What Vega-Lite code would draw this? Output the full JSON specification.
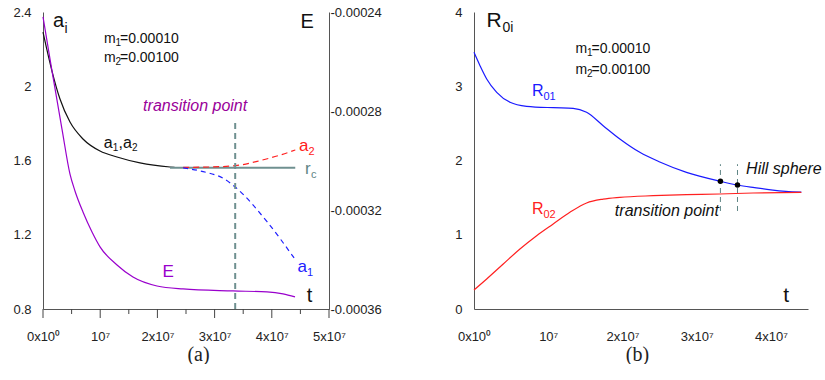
{
  "$schema": "https://vega.github.io/schema/vega-lite/v6.json",
  "padding": {"left": 12, "top": 6, "right": 0, "bottom": 0},
  "bounds": "flush",
  "spacing": 145,
  "config": {
    "view": {"stroke": null},
    "font": "Liberation Sans",
    "text": {"font": "Liberation Sans", "baseline": "alphabetic", "align": "left"},
    "tick": {"color": "#444444", "thickness": 1, "opacity": 1, "filled": true},
    "axis": {"ticks": true, "tickOpacity": 0, "domainColor": "#555555", "labelColor": "#222222", "labelFontSize": 13, "labelFont": "Liberation Sans", "grid": false, "labelFlush": false, "labelOverlap": false, "titleFont": "Liberation Serif", "titleFontSize": 20, "titleFontWeight": "normal", "titleColor": "#222222"}
  },
  "datasets": {
    "E": [
      {"t": 0, "E": -0.000242}, {"t": 1570000, "E": -0.0002638}, {"t": 3320000, "E": -0.0002873}, {"t": 4720000, "E": -0.0003055},
      {"t": 5590000, "E": -0.0003123}, {"t": 6990000, "E": -0.0003208}, {"t": 8570000, "E": -0.0003289}, {"t": 9970000, "E": -0.0003349},
      {"t": 12940000, "E": -0.0003422}, {"t": 15730000, "E": -0.0003471}, {"t": 19930000, "E": -0.0003507}, {"t": 24480000, "E": -0.0003519},
      {"t": 33220000, "E": -0.0003527}, {"t": 39160000, "E": -0.0003531}, {"t": 41960000, "E": -0.0003539}, {"t": 44060000, "E": -0.0003551}
    ],
    "a12": [
      {"t": 0, "v": 2.292}, {"t": 650000, "v": 2.201}, {"t": 1570000, "v": 2.082}, {"t": 2970000, "v": 1.931}, {"t": 4720000, "v": 1.807},
      {"t": 6990000, "v": 1.716}, {"t": 9970000, "v": 1.651}, {"t": 12940000, "v": 1.619}, {"t": 16960000, "v": 1.587},
      {"t": 22200000, "v": 1.565}, {"t": 23000000, "v": 1.563}
    ],
    "rc": [{"t": 22200000, "v": 1.561}, {"t": 44100000, "v": 1.561}],
    "a2": [
      {"t": 24500000, "v": 1.563}, {"t": 29200000, "v": 1.565}, {"t": 33600000, "v": 1.572}, {"t": 37900000, "v": 1.599},
      {"t": 43200000, "v": 1.647}, {"t": 44100000, "v": 1.657}
    ],
    "a1": [
      {"t": 24500000, "v": 1.56}, {"t": 28000000, "v": 1.54}, {"t": 31500000, "v": 1.504}, {"t": 33600000, "v": 1.457},
      {"t": 39200000, "v": 1.269}, {"t": 43900000, "v": 1.075}
    ],
    "R01": [
      {"t": 0, "R": 3.457}, {"t": 810000, "R": 3.277}, {"t": 1710000, "R": 3.098}, {"t": 3060000, "R": 2.918}, {"t": 4850000, "R": 2.784},
      {"t": 7090000, "R": 2.73}, {"t": 10670000, "R": 2.711}, {"t": 13360000, "R": 2.703}, {"t": 15170000, "R": 2.649},
      {"t": 17400000, "R": 2.469}, {"t": 19650000, "R": 2.29}, {"t": 22340000, "R": 2.11}, {"t": 25030000, "R": 1.98},
      {"t": 28630000, "R": 1.84}, {"t": 33200000, "R": 1.72}, {"t": 35500000, "R": 1.67}, {"t": 37800000, "R": 1.635},
      {"t": 40000000, "R": 1.605}, {"t": 42000000, "R": 1.585}, {"t": 44100000, "R": 1.575}
    ],
    "R02": [
      {"t": 0, "R": 0.256}, {"t": 1710000, "R": 0.404}, {"t": 3940000, "R": 0.606}, {"t": 6190000, "R": 0.808}, {"t": 8440000, "R": 0.987},
      {"t": 10670000, "R": 1.145}, {"t": 12920000, "R": 1.302}, {"t": 15170000, "R": 1.428}, {"t": 17400000, "R": 1.48},
      {"t": 19650000, "R": 1.504}, {"t": 24130000, "R": 1.526}, {"t": 28630000, "R": 1.54}, {"t": 33100000, "R": 1.549},
      {"t": 37590000, "R": 1.562}, {"t": 44100000, "R": 1.572}
    ],
    "bigA": [
      {"t": 1750000, "v": 2.321, "main": "a", "sub": "i"},
      {"t": 45000000, "v": 2.312, "main": "E", "sub": ""},
      {"t": 46100000, "v": 0.838, "main": "t", "sub": ""}
    ],
    "massA": [
      {"t": 10660000, "v": 2.233, "main": "m", "sub": "1", "rest": "=0.00010"},
      {"t": 10660000, "v": 2.129, "main": "m", "sub": "2", "rest": "=0.00100"}
    ],
    "a12lab": [{"t": 10600000, "v": 1.667, "p1": "a", "p2": "1", "p3": ",", "p4": "a", "p5": "2"}],
    "a2lab": [{"t": 44760000, "v": 1.653, "main": "a", "sub": "2"}],
    "a1lab": [{"t": 44500000, "v": 0.999, "main": "a", "sub": "1"}],
    "rclab": [{"t": 45800000, "v": 1.527, "main": "r", "sub": "c"}],
    "bigB": [
      {"t": 1680000, "R": 3.794, "main": "R", "sub": "0i"},
      {"t": 41650000, "R": 0.094, "main": "t", "sub": ""}
    ],
    "massB": [
      {"t": 13680000, "R": 3.448, "main": "m", "sub": "1", "rest": "=0.00010"},
      {"t": 13680000, "R": 3.165, "main": "m", "sub": "2", "rest": "=0.00100"}
    ],
    "R01lab": [{"t": 7800000, "R": 2.873, "main": "R", "sub": "01"}],
    "R02lab": [{"t": 7800000, "R": 1.279, "main": "R", "sub": "02"}],
    "xMajA": [{"t": 0}, {"t": 10000000}, {"t": 20000000}, {"t": 30000000}, {"t": 40000000}, {"t": 50000000}],
    "xMinA": [{"t": 5000000}, {"t": 15000000}, {"t": 25000000}, {"t": 35000000}, {"t": 45000000}],
    "yMajA": [{"v": 0.8}, {"v": 1.2}, {"v": 1.6}, {"v": 2}, {"v": 2.4}],
    "yMinA": [{"v": 1}, {"v": 1.4}, {"v": 1.8}, {"v": 2.2}],
    "xMajB": [{"t": 0}, {"t": 10000000}, {"t": 20000000}, {"t": 30000000}, {"t": 40000000}],
    "xMinB": [{"t": 5000000}, {"t": 15000000}, {"t": 25000000}, {"t": 35000000}],
    "yMajB": [{"R": 0}, {"R": 1}, {"R": 2}, {"R": 3}, {"R": 4}],
    "yMinB": [{"R": 0.5}, {"R": 1.5}, {"R": 2.5}, {"R": 3.5}]
  },
  "hconcat": [
    {
      "width": 286,
      "height": 297,
      "encoding": {
        "x": {"field": "t", "type": "quantitative", "scale": {"domain": [0, 50000000], "nice": false, "zero": false}, "axis": null}
      },
      "resolve": {"scale": {"x": "independent", "y": "independent"}, "axis": {"x": "independent", "y": "independent"}},
      "layer": [
        {
          "data": {"name": "a12"},
          "mark": {"type": "line", "color": "#111111", "strokeWidth": 1.2, "interpolate": "monotone"},
          "encoding": {
            "x": {"field": "t", "type": "quantitative", "scale": {"domain": [0, 50000000], "nice": false, "zero": false},
              "axis": {"orient": "bottom", "values": [0, 10000000, 20000000, 30000000, 40000000, 50000000],
                "labelExpr": "datum.value == 0 ? '0x10⁰' : (datum.value == 10000000 ? '10⁷' : (datum.value / 10000000) + 'x10⁷')",
                "tickSize": 9, "labelPadding": 12, "title": "(a)", "titleX": 155, "titleY": 51, "titleBaseline": "alphabetic"}},
            "y": {"field": "v", "type": "quantitative", "scale": {"domain": [0.8, 2.4], "nice": false, "zero": false},
              "axis": {"orient": "left", "values": [0.8, 1.2, 1.6, 2, 2.4], "format": ".2~f", "tickSize": 9, "labelPadding": 3, "title": null}}
          }
        },
        {
          "data": {"name": "E"},
          "mark": {"type": "line", "color": "#9900cc", "strokeWidth": 1.2, "interpolate": "monotone"},
          "encoding": {"y": {"field": "E", "type": "quantitative", "scale": {"domain": [-0.00036, -0.00024], "nice": false, "zero": false},
            "axis": {"orient": "right", "values": [-0.00036, -0.00032, -0.00028, -0.00024],
              "labelExpr": "'-' + format(abs(datum.value), '.5f')",
              "tickSize": -9, "labelPadding": 10, "title": null}}}
        },
        {
          "data": {"name": "xMajA"},
          "mark": {"type": "tick", "orient": "vertical", "size": 9, "yOffset": 4.5},
          "encoding": {"y": {"datum": 0.8, "type": "quantitative", "scale": {"domain": [0.8, 2.4], "nice": false, "zero": false}, "axis": null}}
        },
        {
          "data": {"name": "xMinA"},
          "mark": {"type": "tick", "orient": "vertical", "size": 5, "yOffset": 2.5},
          "encoding": {"y": {"datum": 0.8, "type": "quantitative", "scale": {"domain": [0.8, 2.4], "nice": false, "zero": false}, "axis": null}}
        },
        {
          "data": {"name": "yMajA"},
          "mark": {"type": "tick", "orient": "horizontal", "size": 9, "xOffset": -4.5},
          "encoding": {"x": {"datum": 0, "type": "quantitative", "scale": {"domain": [0, 50000000], "nice": false, "zero": false}, "axis": null},
            "y": {"field": "v", "type": "quantitative", "scale": {"domain": [0.8, 2.4], "nice": false, "zero": false}, "axis": null}}
        },
        {
          "data": {"name": "yMinA"},
          "mark": {"type": "tick", "orient": "horizontal", "size": 5, "xOffset": -2.5},
          "encoding": {"x": {"datum": 0, "type": "quantitative", "scale": {"domain": [0, 50000000], "nice": false, "zero": false}, "axis": null},
            "y": {"field": "v", "type": "quantitative", "scale": {"domain": [0.8, 2.4], "nice": false, "zero": false}, "axis": null}}
        },
        {
          "data": {"name": "yMajA"},
          "mark": {"type": "tick", "orient": "horizontal", "size": 9, "xOffset": -4.5},
          "encoding": {"x": {"datum": 50000000, "type": "quantitative", "scale": {"domain": [0, 50000000], "nice": false, "zero": false}, "axis": null},
            "y": {"field": "v", "type": "quantitative", "scale": {"domain": [0.8, 2.4], "nice": false, "zero": false}, "axis": null}}
        },
        {
          "data": {"name": "yMinA"},
          "mark": {"type": "tick", "orient": "horizontal", "size": 5, "xOffset": -2.5},
          "encoding": {"x": {"datum": 50000000, "type": "quantitative", "scale": {"domain": [0, 50000000], "nice": false, "zero": false}, "axis": null},
            "y": {"field": "v", "type": "quantitative", "scale": {"domain": [0.8, 2.4], "nice": false, "zero": false}, "axis": null}}
        },
        {
          "data": {"name": "rc"},
          "mark": {"type": "line", "color": "#6f9090", "strokeWidth": 2},
          "encoding": {"y": {"field": "v", "type": "quantitative", "scale": {"domain": [0.8, 2.4], "nice": false, "zero": false}, "axis": null}}
        },
        {
          "data": {"name": "a2"},
          "mark": {"type": "line", "color": "#ff2020", "strokeWidth": 1.2, "strokeDash": [6, 4], "interpolate": "monotone"},
          "encoding": {"y": {"field": "v", "type": "quantitative", "scale": {"domain": [0.8, 2.4], "nice": false, "zero": false}, "axis": null}}
        },
        {
          "data": {"name": "a1"},
          "mark": {"type": "line", "color": "#2020ff", "strokeWidth": 1.2, "strokeDash": [5, 4], "interpolate": "monotone"},
          "encoding": {"y": {"field": "v", "type": "quantitative", "scale": {"domain": [0.8, 2.4], "nice": false, "zero": false}, "axis": null}}
        },
        {
          "data": {"values": [{"t": 33600000, "lo": 0.8, "hi": 1.82}]},
          "mark": {"type": "rule", "color": "#6f9090", "strokeWidth": 2, "strokeDash": [6, 4]},
          "encoding": {"y": {"field": "lo", "type": "quantitative", "scale": {"domain": [0.8, 2.4], "nice": false, "zero": false}, "axis": null}, "y2": {"field": "hi"}}
        },
        {
          "data": {"name": "bigA"},
          "mark": {"type": "text", "fontSize": 20, "color": "#111111"},
          "encoding": {"y": {"field": "v", "type": "quantitative", "scale": {"domain": [0.8, 2.4], "nice": false, "zero": false}, "axis": null}, "text": {"field": "main"}}
        },
        {
          "data": {"name": "bigA"},
          "mark": {"type": "text", "fontSize": 14, "color": "#111111", "dx": 11.5, "dy": 6},
          "encoding": {"y": {"field": "v", "type": "quantitative", "scale": {"domain": [0.8, 2.4], "nice": false, "zero": false}, "axis": null}, "text": {"field": "sub"}}
        },
        {
          "data": {"name": "massA"},
          "mark": {"type": "text", "fontSize": 14, "color": "#111111"},
          "encoding": {"y": {"field": "v", "type": "quantitative", "scale": {"domain": [0.8, 2.4], "nice": false, "zero": false}, "axis": null}, "text": {"field": "main"}}
        },
        {
          "data": {"name": "massA"},
          "mark": {"type": "text", "fontSize": 10, "color": "#111111", "dx": 11.5, "dy": 3},
          "encoding": {"y": {"field": "v", "type": "quantitative", "scale": {"domain": [0.8, 2.4], "nice": false, "zero": false}, "axis": null}, "text": {"field": "sub"}}
        },
        {
          "data": {"name": "massA"},
          "mark": {"type": "text", "fontSize": 14, "color": "#111111", "dx": 16},
          "encoding": {"y": {"field": "v", "type": "quantitative", "scale": {"domain": [0.8, 2.4], "nice": false, "zero": false}, "axis": null}, "text": {"field": "rest"}}
        },
        {
          "data": {"values": [{"t": 26600000, "v": 1.867, "label": "transition point"}]},
          "mark": {"type": "text", "align": "center", "fontSize": 16, "fontStyle": "italic", "color": "#990099"},
          "encoding": {"y": {"field": "v", "type": "quantitative", "scale": {"domain": [0.8, 2.4], "nice": false, "zero": false}, "axis": null}, "text": {"field": "label"}}
        },
        {
          "data": {"name": "a12lab"},
          "mark": {"type": "text", "fontSize": 16, "color": "#111111"},
          "encoding": {"y": {"field": "v", "type": "quantitative", "scale": {"domain": [0.8, 2.4], "nice": false, "zero": false}, "axis": null}, "text": {"field": "p1"}}
        },
        {
          "data": {"name": "a12lab"},
          "mark": {"type": "text", "fontSize": 10, "color": "#111111", "dx": 9, "dy": 3},
          "encoding": {"y": {"field": "v", "type": "quantitative", "scale": {"domain": [0.8, 2.4], "nice": false, "zero": false}, "axis": null}, "text": {"field": "p2"}}
        },
        {
          "data": {"name": "a12lab"},
          "mark": {"type": "text", "fontSize": 16, "color": "#111111", "dx": 14.8},
          "encoding": {"y": {"field": "v", "type": "quantitative", "scale": {"domain": [0.8, 2.4], "nice": false, "zero": false}, "axis": null}, "text": {"field": "p3"}}
        },
        {
          "data": {"name": "a12lab"},
          "mark": {"type": "text", "fontSize": 16, "color": "#111111", "dx": 19.3},
          "encoding": {"y": {"field": "v", "type": "quantitative", "scale": {"domain": [0.8, 2.4], "nice": false, "zero": false}, "axis": null}, "text": {"field": "p4"}}
        },
        {
          "data": {"name": "a12lab"},
          "mark": {"type": "text", "fontSize": 10, "color": "#111111", "dx": 28.4, "dy": 3},
          "encoding": {"y": {"field": "v", "type": "quantitative", "scale": {"domain": [0.8, 2.4], "nice": false, "zero": false}, "axis": null}, "text": {"field": "p5"}}
        },
        {
          "data": {"name": "a2lab"},
          "mark": {"type": "text", "fontSize": 17, "color": "#ff2020"},
          "encoding": {"y": {"field": "v", "type": "quantitative", "scale": {"domain": [0.8, 2.4], "nice": false, "zero": false}, "axis": null}, "text": {"field": "main"}}
        },
        {
          "data": {"name": "a2lab"},
          "mark": {"type": "text", "fontSize": 11, "color": "#ff2020", "dx": 9.5, "dy": 4},
          "encoding": {"y": {"field": "v", "type": "quantitative", "scale": {"domain": [0.8, 2.4], "nice": false, "zero": false}, "axis": null}, "text": {"field": "sub"}}
        },
        {
          "data": {"name": "a1lab"},
          "mark": {"type": "text", "fontSize": 17, "color": "#2020ff"},
          "encoding": {"y": {"field": "v", "type": "quantitative", "scale": {"domain": [0.8, 2.4], "nice": false, "zero": false}, "axis": null}, "text": {"field": "main"}}
        },
        {
          "data": {"name": "a1lab"},
          "mark": {"type": "text", "fontSize": 11, "color": "#2020ff", "dx": 9.5, "dy": 4},
          "encoding": {"y": {"field": "v", "type": "quantitative", "scale": {"domain": [0.8, 2.4], "nice": false, "zero": false}, "axis": null}, "text": {"field": "sub"}}
        },
        {
          "data": {"name": "rclab"},
          "mark": {"type": "text", "fontSize": 17, "color": "#5f8585"},
          "encoding": {"y": {"field": "v", "type": "quantitative", "scale": {"domain": [0.8, 2.4], "nice": false, "zero": false}, "axis": null}, "text": {"field": "main"}}
        },
        {
          "data": {"name": "rclab"},
          "mark": {"type": "text", "fontSize": 11, "color": "#5f8585", "dx": 6, "dy": 4},
          "encoding": {"y": {"field": "v", "type": "quantitative", "scale": {"domain": [0.8, 2.4], "nice": false, "zero": false}, "axis": null}, "text": {"field": "sub"}}
        },
        {
          "data": {"values": [{"t": 20900000, "v": 0.972, "label": "E"}]},
          "mark": {"type": "text", "fontSize": 17, "color": "#9900cc"},
          "encoding": {"y": {"field": "v", "type": "quantitative", "scale": {"domain": [0.8, 2.4], "nice": false, "zero": false}, "axis": null}, "text": {"field": "label"}}
        }
      ]
    },
    {
      "width": 334,
      "height": 297,
      "encoding": {
        "x": {"field": "t", "type": "quantitative", "scale": {"domain": [0, 45000000], "nice": false, "zero": false}, "axis": null},
        "y": {"field": "R", "type": "quantitative", "scale": {"domain": [0, 4], "nice": false, "zero": false}, "axis": null}
      },
      "resolve": {"scale": {"x": "independent", "y": "independent"}, "axis": {"x": "independent", "y": "independent"}},
      "layer": [
        {
          "data": {"name": "R01"},
          "mark": {"type": "line", "color": "#1a1aff", "strokeWidth": 1.2, "interpolate": "monotone"},
          "encoding": {
            "x": {"field": "t", "type": "quantitative", "scale": {"domain": [0, 45000000], "nice": false, "zero": false},
              "axis": {"orient": "bottom", "values": [0, 10000000, 20000000, 30000000, 40000000],
                "labelExpr": "datum.value == 0 ? '0x10⁰' : (datum.value == 10000000 ? '10⁷' : (datum.value / 10000000) + 'x10⁷')",
                "tickSize": 9, "labelPadding": 12, "title": "(b)", "titleX": 163, "titleY": 51, "titleBaseline": "alphabetic"}},
            "y": {"field": "R", "type": "quantitative", "scale": {"domain": [0, 4], "nice": false, "zero": false},
              "axis": {"orient": "left", "values": [0, 1, 2, 3, 4], "format": "d", "tickSize": 9, "labelPadding": 3, "title": null}}
          }
        },
        {
          "data": {"name": "R02"},
          "mark": {"type": "line", "color": "#ff2020", "strokeWidth": 1.2, "interpolate": "monotone"}
        },
        {
          "data": {"name": "xMajB"},
          "mark": {"type": "tick", "orient": "vertical", "size": 9, "yOffset": 4.5},
          "encoding": {"y": {"datum": 0, "type": "quantitative", "scale": {"domain": [0, 4], "nice": false, "zero": false}, "axis": null}}
        },
        {
          "data": {"name": "xMinB"},
          "mark": {"type": "tick", "orient": "vertical", "size": 5, "yOffset": 2.5},
          "encoding": {"y": {"datum": 0, "type": "quantitative", "scale": {"domain": [0, 4], "nice": false, "zero": false}, "axis": null}}
        },
        {
          "data": {"name": "yMajB"},
          "mark": {"type": "tick", "orient": "horizontal", "size": 9, "xOffset": -4.5},
          "encoding": {"x": {"datum": 0, "type": "quantitative", "scale": {"domain": [0, 45000000], "nice": false, "zero": false}, "axis": null}}
        },
        {
          "data": {"name": "yMinB"},
          "mark": {"type": "tick", "orient": "horizontal", "size": 5, "xOffset": -2.5},
          "encoding": {"x": {"datum": 0, "type": "quantitative", "scale": {"domain": [0, 45000000], "nice": false, "zero": false}, "axis": null}}
        },
        {
          "data": {"values": [{"t": 33200000, "R": 1.32, "hi": 1.95}, {"t": 35500000, "R": 1.32, "hi": 1.95}]},
          "mark": {"type": "rule", "color": "#5f8585", "strokeWidth": 1, "strokeDash": [5, 4]},
          "encoding": {"y2": {"field": "hi"}}
        },
        {
          "data": {"values": [{"t": 33200000, "R": 1.72}, {"t": 35500000, "R": 1.67}]},
          "mark": {"type": "point", "filled": true, "color": "#000000", "size": 30, "opacity": 1}
        },
        {
          "data": {"name": "bigB"},
          "mark": {"type": "text", "fontSize": 21, "color": "#111111"},
          "encoding": {"text": {"field": "main"}}
        },
        {
          "data": {"name": "bigB"},
          "mark": {"type": "text", "fontSize": 14, "color": "#111111", "dx": 16, "dy": 5},
          "encoding": {"text": {"field": "sub"}}
        },
        {
          "data": {"name": "massB"},
          "mark": {"type": "text", "fontSize": 14, "color": "#111111"},
          "encoding": {"text": {"field": "main"}}
        },
        {
          "data": {"name": "massB"},
          "mark": {"type": "text", "fontSize": 10, "color": "#111111", "dx": 11.5, "dy": 3},
          "encoding": {"text": {"field": "sub"}}
        },
        {
          "data": {"name": "massB"},
          "mark": {"type": "text", "fontSize": 14, "color": "#111111", "dx": 16},
          "encoding": {"text": {"field": "rest"}}
        },
        {
          "data": {"name": "R01lab"},
          "mark": {"type": "text", "fontSize": 16, "color": "#1a1aff"},
          "encoding": {"text": {"field": "main"}}
        },
        {
          "data": {"name": "R01lab"},
          "mark": {"type": "text", "fontSize": 11, "color": "#1a1aff", "dx": 11.5, "dy": 4},
          "encoding": {"text": {"field": "sub"}}
        },
        {
          "data": {"name": "R02lab"},
          "mark": {"type": "text", "fontSize": 16, "color": "#ff2020"},
          "encoding": {"text": {"field": "main"}}
        },
        {
          "data": {"name": "R02lab"},
          "mark": {"type": "text", "fontSize": 11, "color": "#ff2020", "dx": 11.5, "dy": 4},
          "encoding": {"text": {"field": "sub"}}
        },
        {
          "data": {"values": [{"t": 33000000, "R": 1.257, "label": "transition point"}]},
          "mark": {"type": "text", "align": "right", "fontSize": 16, "fontStyle": "italic", "color": "#111111"},
          "encoding": {"text": {"field": "label"}}
        },
        {
          "data": {"values": [{"t": 36660000, "R": 1.818, "label": "Hill sphere"}]},
          "mark": {"type": "text", "fontSize": 16, "fontStyle": "italic", "color": "#111111"},
          "encoding": {"text": {"field": "label"}}
        }
      ]
    }
  ]
}
